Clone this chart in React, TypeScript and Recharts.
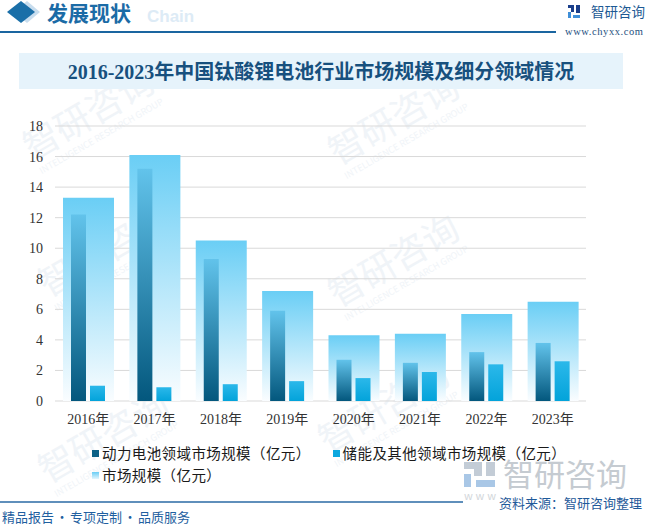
import { BarChart, Bar, XAxis, YAxis, CartesianGrid } from 'recharts'

// 2016-2023 钛酸锂电池市场规模（亿元）
const years = ['2016年', '2017年', '2018年', '2019年', '2020年', '2021年', '2022年', '2023年']
const marketSize = [13.3, 16.1, 10.5, 7.2, 4.3, 4.4, 5.7, 6.5]
const powerBattery = [12.2, 15.2, 9.3, 5.9, 2.7, 2.5, 3.2, 3.8]
const storageOther = [1.0, 0.9, 1.1, 1.3, 1.5, 1.9, 2.4, 2.6]
const yTicks = [0, 2, 4, 6, 8, 10, 12, 14, 16, 18]

const legendItems = [
  { key: 'power', name: '动力电池领域市场规模（亿元）', icon: '#0B6186' },
  { key: 'storage', name: '储能及其他领域市场规模（亿元）', icon: '#0DA8DF' },
  { key: 'market', name: '市场规模（亿元）', icon: 'linear-gradient(#6ACEF5, #E3F5FD)' },
]

const footerWords = ['精品报告', '专项定制', '品质服务']

const data = years.map((year, i) => ({
  year,
  market: marketSize[i],
  power: powerBattery[i],
  storage: storageOther[i],
}))

const serif = '"Liberation Serif", "Noto Sans CJK SC", serif'
const sans = '"Noto Sans CJK SC", "Noto Sans", sans-serif'

const tickStyle = { fontSize: 14, fill: '#333', fontFamily: serif }

function Watermark({ x, y }: { x: number; y: number }) {
  return (
    <g transform={`translate(${x},${y}) rotate(-30)`} fill="#F0F4F8">
      <text fontSize={36} fontFamily={sans} textAnchor="middle">智研咨询</text>
      <text y={16} fontSize={9} fontFamily={sans} textAnchor="middle">INTELLIGENCE RESEARCH GROUP</text>
    </g>
  )
}

export default function App() {
  return (
    <div style={{ position: 'absolute', left: 0, top: 0, width: 646, height: 525, background: '#fff', overflow: 'hidden', fontFamily: sans }}>
      {/* background watermarks */}
      <svg width={646} height={525} style={{ position: 'absolute', left: 0, top: 0 }}>
        <Watermark x={110} y={262} />
        <Watermark x={400} y={272} />
        <Watermark x={110} y={448} />
        <Watermark x={390} y={418} />
        <Watermark x={95} y={125} />
        <Watermark x={400} y={130} />
      </svg>

      {/* header */}
      <svg width={646} height={45} style={{ position: 'absolute', left: 0, top: 0 }}>
        <polygon points="27,1 40,12 27,23 14,12" fill="#C8DDEE" />
        <polygon points="21,1 35,12 21,23 7,12" fill="#1A6FA8" />
        <text x={147} y={22} fontSize={17} fontWeight={700} fill="#DDEBF6" fontFamily='"Liberation Sans", Arial, sans-serif'>Chain</text>
        <line x1={0} x2={556} y1={32} y2={32} stroke="#1A65A0" strokeWidth={2} />
        <rect x={568} y={5} width={6} height={3} fill="#1B3F8B" />
        <rect x={571} y={8} width={3} height={4} fill="#1B3F8B" />
        <rect x={568} y={12} width={3} height={6} fill="#3F8FD8" />
        <rect x={576} y={5} width={4} height={8} fill="#1B3F8B" />
        <rect x={573} y={15} width={7} height={3} fill="#3F8FD8" />
        <text x={591} y={17} fontSize={13.5} fill="#1D5A94" fontFamily={sans}>智研咨询</text>
        <text x={565} y={35} fontSize={10.5} fill="#1D4F80" fontFamily={serif} textLength={78}>www.chyxx.com</text>
      </svg>
      <div style={{ position: 'absolute', left: 47, top: 0, fontSize: 21, lineHeight: '24px', fontWeight: 700, color: '#1B6BA6', whiteSpace: 'nowrap' }}>发展现状</div>

      {/* title */}
      <div style={{ position: 'absolute', left: 19, top: 53, width: 604, height: 36, background: '#E6F3FB', textAlign: 'center', lineHeight: '38px', fontSize: 20, fontWeight: 700, color: '#17507E', fontFamily: serif, whiteSpace: 'nowrap' }}>
        2016-2023年中国钛酸锂电池行业市场规模及细分领域情况
      </div>

      <div style={{ position: 'absolute', left: 0, top: 0 }}>
        <BarChart width={646} height={440} data={data} margin={{ top: 126, right: 0, bottom: 9, left: 0 }} barGap={4}>
          <defs>
            <linearGradient id="gMarket" x1="0" y1="0" x2="0" y2="1">
              <stop offset="0%" stopColor="#6ACEF5" />
              <stop offset="100%" stopColor="#FAFDFF" />
            </linearGradient>
            <linearGradient id="gPower" x1="0" y1="0" x2="0" y2="1">
              <stop offset="0%" stopColor="#62C3EB" />
              <stop offset="100%" stopColor="#03577D" />
            </linearGradient>
            <linearGradient id="gStorage" x1="0" y1="0" x2="0" y2="1">
              <stop offset="0%" stopColor="#2BB8EA" />
              <stop offset="100%" stopColor="#03A3DA" />
            </linearGradient>
          </defs>
          <CartesianGrid vertical={false} stroke="#D9D9D9" />
          <XAxis dataKey="year" axisLine={false} tickLine={false} tickSize={0} tickMargin={13} height={30} interval={0} tick={tickStyle} />
          <XAxis xAxisId="s" dataKey="year" hide />
          <YAxis domain={[0, 18]} ticks={yTicks} width={55} axisLine={false} tickLine={false} tickSize={0} tickMargin={12} tick={tickStyle} />
          <YAxis yAxisId="r" orientation="right" domain={[0, 18]} ticks={yTicks} width={60} axisLine={false} tickLine={false} tickSize={0} tickMargin={10} tick={{ ...tickStyle, textAnchor: 'start' }} />
          <Bar dataKey="market" name="市场规模（亿元）" barSize={51} fill="url(#gMarket)" isAnimationActive={false} />
          <Bar xAxisId="s" dataKey="power" name="动力电池领域市场规模（亿元）" barSize={15} fill="url(#gPower)" isAnimationActive={false} />
          <Bar xAxisId="s" dataKey="storage" name="储能及其他领域市场规模（亿元）" barSize={15} fill="url(#gStorage)" isAnimationActive={false} />
        </BarChart>
      </div>

      {/* legend */}
      <div style={{ position: 'absolute', left: 92, top: 442, width: 480, display: 'flex', flexWrap: 'wrap', columnGap: 22, fontSize: 14.5, letterSpacing: 0.4, lineHeight: '22px', color: '#1a1a1a' }}>
        {legendItems.map((it) => (
          <div key={it.key} style={{ display: 'flex', alignItems: 'center', whiteSpace: 'nowrap' }}>
            <span style={{ width: 7, height: 7, background: it.icon, marginRight: 3, display: 'inline-block' }} />
            <span>{it.name}</span>
          </div>
        ))}
      </div>

      {/* bottom watermark logo */}
      <svg width={646} height={525} style={{ position: 'absolute', left: 0, top: 0 }}>
        <rect x={464} y={462} width={18} height={7} fill="#C3CCD6" />
        <rect x={474} y={469} width={8} height={7} fill="#C3CCD6" />
        <rect x={464} y={474} width={7} height={13} fill="#A9C7E6" />
        <rect x={486} y={462} width={9} height={14} fill="#C3CCD6" />
        <rect x={476} y={480} width={19} height={7} fill="#A9C7E6" />
        <text x={503} y={486} fontSize={31} fill="#C5CBD1" fontFamily={sans}>智研咨询</text>
        <text x={464} y={500} fontSize={11} fill="#D3D7DB" fontFamily={sans} textLength={32}>www</text>
        <line x1={0} x2={463} y1={502} y2={502} stroke="#2A6AA5" strokeWidth={1.5} />
      </svg>

      <div style={{ position: 'absolute', left: 499, top: 494, fontSize: 13, lineHeight: '18px', color: '#1F5A9A', whiteSpace: 'nowrap' }}>资料来源：智研咨询整理</div>
      <div style={{ position: 'absolute', left: 2, top: 508, display: 'flex', fontSize: 13, lineHeight: '17px', color: '#1F5FA0', whiteSpace: 'nowrap' }}>
        {footerWords.map((w, i) => (
          <span key={w} style={{ display: 'flex' }}>
            {i > 0 && <span style={{ width: 16, textAlign: 'center' }}>·</span>}
            <span>{w}</span>
          </span>
        ))}
      </div>
    </div>
  )
}
